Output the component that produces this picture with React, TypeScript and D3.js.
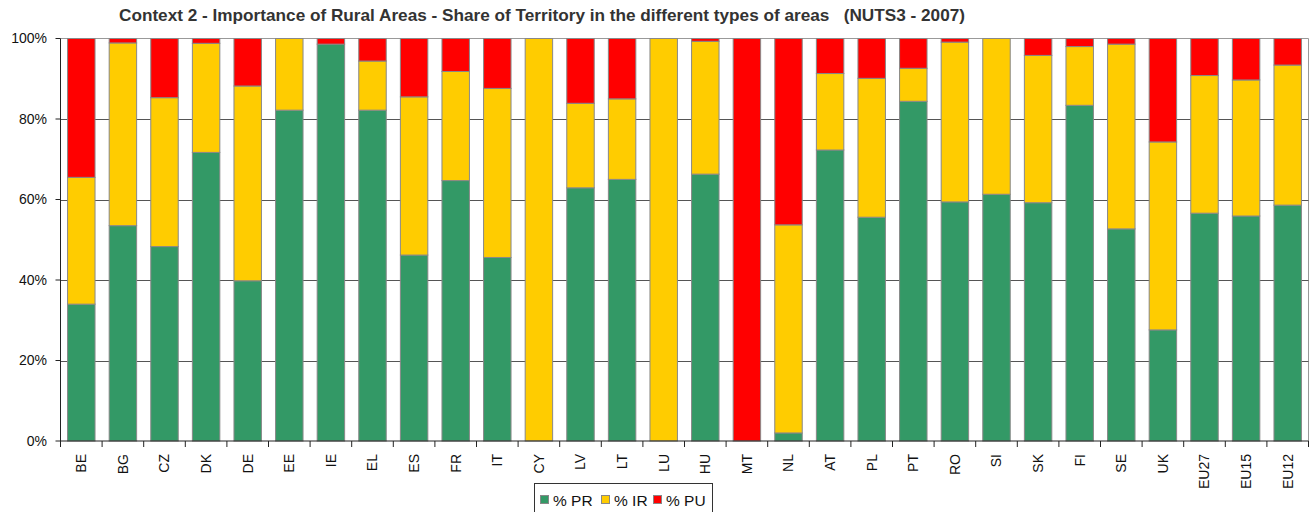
import React from "react";
import * as d3 from "d3";

const categories = ["BE","BG","CZ","DK","DE","EE","IE","EL","ES","FR","IT","CY","LV","LT","LU","HU","MT","NL","AT","PL","PT","RO","SI","SK","FI","SE","UK","EU27","EU15","EU12"];
const prValues = [34.0,53.5,48.3,71.7,39.8,82.2,98.6,82.2,46.2,64.7,45.6,0,62.9,65.0,0,66.3,0,2.0,72.3,55.6,84.4,59.4,61.3,59.2,83.4,52.7,27.6,56.6,55.9,58.6];
const irValues = [31.5,45.4,37.0,27.1,48.4,17.8,0,12.2,39.3,27.1,42.0,100,21.0,20.0,100,33.0,0,51.7,19.0,34.5,8.2,39.7,38.7,36.6,14.6,45.9,46.7,34.2,33.8,34.8];
const seriesNames = ["% PR","% IR","% PU"];
const seriesColors = ["#339966","#FFCC00","#FF0000"];
const yTicks = [0,20,40,60,80,100];
const title = "Context 2 - Importance of Rural Areas - Share of Territory in the different types of areas   (NUTS3 - 2007)";

export default function App() {
  const W = 1316, H = 512;
  const left = 60.5, right = 1308.5, top = 38.5, bottom = 441;
  const x = d3.scaleBand<string>().domain(categories).range([left, right]).paddingInner(0.34).paddingOuter(0.17);
  const y = d3.scaleLinear().domain([0, 100]).range([bottom, top]);
  const rows = categories.map((c, i) => {
    const pr = prValues[i], ir = irValues[i];
    const pu = Math.max(0, 100 - pr - ir);
    return { cat: c, "% PR": pr, "% IR": ir, "% PU": pu };
  });
  const stack = d3.stack<any>().keys(seriesNames)(rows);
  const step = (right - left) / categories.length;
  const font = "'Liberation Sans', Arial, sans-serif";
  return (
    <svg width={W} height={H} style={{ position: "absolute", left: 0, top: 0, background: "#fff" }} fontFamily={font}>
      <text x={542} y={21} textAnchor="middle" fontSize={17} fontWeight="bold" fill="#333" style={{ whiteSpace: "pre" }} textLength={846} lengthAdjust="spacingAndGlyphs">{title}</text>
      {/* plot border */}
      <line x1={left} x2={right} y1={top} y2={top} stroke="#999" />
      <line x1={right} x2={right} y1={top} y2={bottom} stroke="#999" />
      {yTicks.filter(t => t > 0 && t < 100).map(t => (
        <line key={t} x1={left} x2={right} y1={Math.round(y(t)) + 0.5} y2={Math.round(y(t)) + 0.5} stroke="#555" />
      ))}
      {stack.map((s, si) => (
        <g key={si} fill={seriesColors[si]} stroke="#888" strokeWidth={1}>
          {s.map((d, i) => (d[1] - d[0] > 0 ? (
            <rect key={i} x={x(categories[i])!} width={x.bandwidth()} y={y(d[1])} height={y(d[0]) - y(d[1])} />
          ) : null))}
        </g>
      ))}
      {/* axes */}
      <line x1={left} x2={left} y1={top} y2={bottom} stroke="#222" />
      <line x1={left} x2={right} y1={bottom} y2={bottom} stroke="#222" />
      {yTicks.map(t => (
        <g key={t}>
          <line x1={left - 5} x2={left} y1={y(t)} y2={y(t)} stroke="#222" />
          <text x={47} y={y(t)} dy="0.35em" textAnchor="end" fontSize={14} fill="#111">{t + "%"}</text>
        </g>
      ))}
      {d3.range(categories.length + 1).map(k => (
        <line key={k} x1={left + k * step} x2={left + k * step} y1={bottom} y2={bottom + 6} stroke="#222" />
      ))}
      {categories.map(c => {
        const cx = x(c)! + x.bandwidth() / 2;
        return (
          <text key={c} transform={`translate(${cx},454) rotate(-90)`} dy="0.35em" textAnchor="end" fontSize={14} fill="#111">{c}</text>
        );
      })}
      {/* legend */}
      <rect x={534.5} y={483.5} width={178} height={34} fill="#fff" stroke="#333" />
      {seriesNames.map((n, i) => {
        const lx = [540, 601, 653][i];
        return (
          <g key={n}>
            <rect x={lx + 0.5} y={495.5} width={8} height={8} fill={seriesColors[i]} stroke="#888" />
            <text x={lx + 13} y={506} fontSize={15.5} fill="#111">{n}</text>
          </g>
        );
      })}
    </svg>
  );
}
